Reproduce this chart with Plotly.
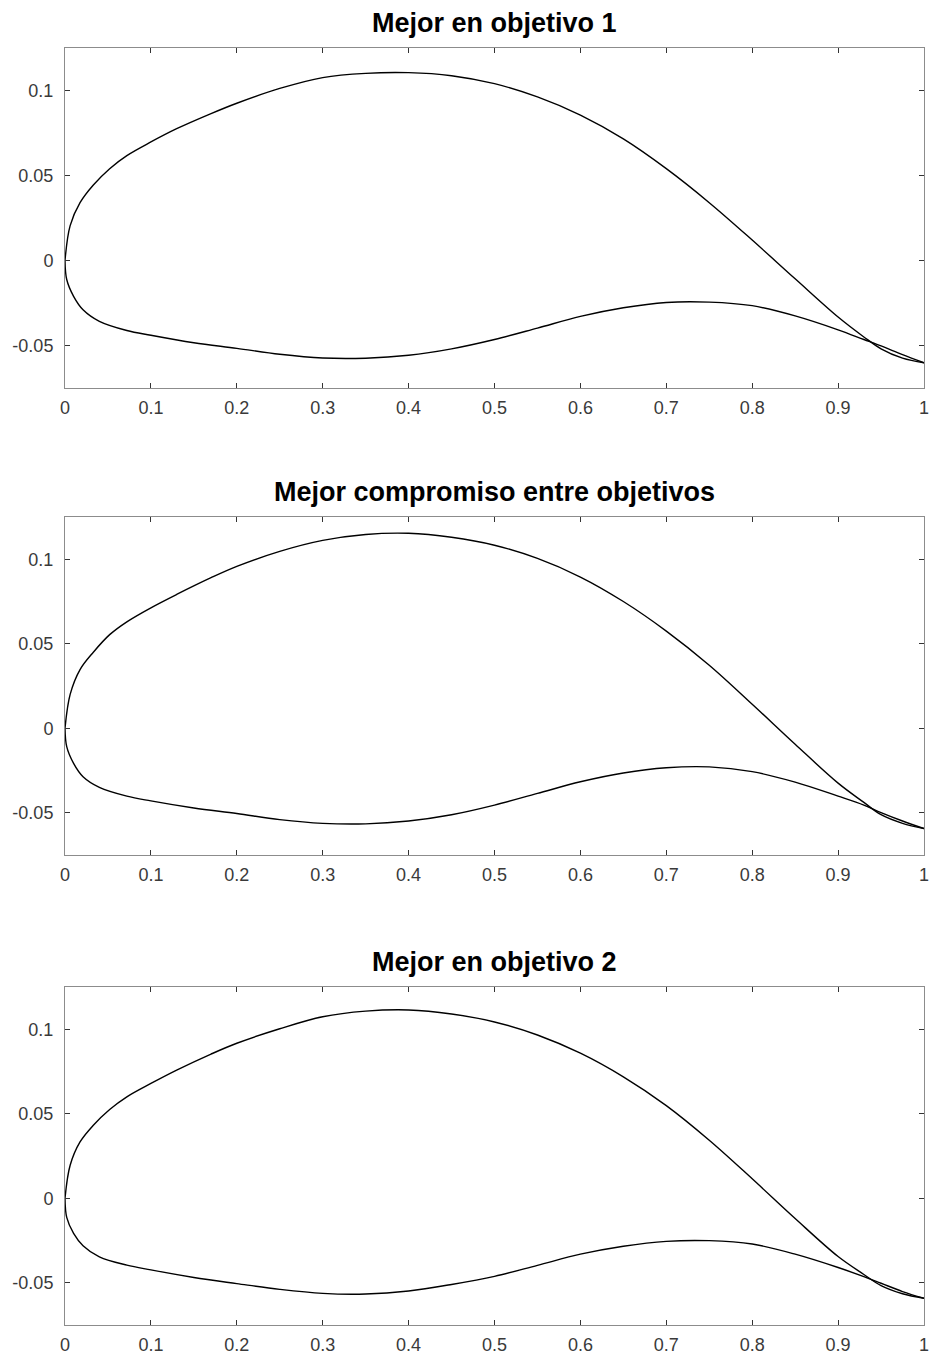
import plotly.graph_objects as go

# Shared chordwise stations (upper and lower surfaces)
x_upper = [0, 0.006, 0.0175, 0.033, 0.052, 0.072, 0.1, 0.13, 0.17, 0.2, 0.25, 0.3, 0.35,
           0.4, 0.45, 0.5, 0.55, 0.6, 0.65, 0.7, 0.75, 0.8, 0.85, 0.9, 0.93, 0.95, 0.975, 1.0]
x_lower = [0, 0.002, 0.01, 0.021, 0.04, 0.072, 0.1, 0.15, 0.2, 0.25, 0.3, 0.35, 0.4, 0.45,
           0.5, 0.55, 0.6, 0.65, 0.7, 0.75, 0.8, 0.85, 0.9, 0.93, 0.95, 0.975, 1.0]

# Mejor en objetivo 1
y_upper_1 = [0, 0.0205, 0.034, 0.0444, 0.054, 0.0617, 0.0697, 0.0775, 0.0864, 0.0925, 0.1012,
             0.1076, 0.1101, 0.1105, 0.1087, 0.104, 0.0962, 0.0855, 0.0715, 0.054, 0.034,
             0.012, -0.0108, -0.0333, -0.045, -0.052, -0.0575, -0.0602]
y_lower_1 = [0, -0.0112, -0.0211, -0.029, -0.0358, -0.0412, -0.044, -0.0484, -0.0517, -0.0552,
             -0.0574, -0.0575, -0.0558, -0.052, -0.0465, -0.0398, -0.0329, -0.0278, -0.0247,
             -0.0245, -0.0266, -0.0326, -0.0408, -0.0465, -0.0503, -0.0554, -0.0602]

# Mejor compromiso entre objetivos
y_upper_2 = [0, 0.02, 0.0347, 0.045, 0.0554, 0.063, 0.0713, 0.0792, 0.0891, 0.0958, 0.1047,
             0.1112, 0.1147, 0.1154, 0.113, 0.1083, 0.1005, 0.0895, 0.075, 0.0575, 0.0373,
             0.0142, -0.0095, -0.0325, -0.0439, -0.0512, -0.0563, -0.0594]
y_lower_2 = [0, -0.0109, -0.0208, -0.0287, -0.035, -0.0402, -0.043, -0.0472, -0.0505, -0.0541,
             -0.0563, -0.0566, -0.0549, -0.0512, -0.0455, -0.0386, -0.0317, -0.0265, -0.0234,
             -0.0229, -0.0257, -0.0319, -0.0402, -0.0455, -0.0499, -0.0549, -0.0594]

# Mejor en objetivo 2
y_upper_3 = [0, 0.0195, 0.0333, 0.0432, 0.0525, 0.06, 0.0679, 0.0758, 0.0853, 0.0917, 0.1003,
             0.1074, 0.1107, 0.1114, 0.109, 0.1043, 0.0966, 0.0858, 0.0718, 0.0548, 0.0343,
             0.0115, -0.012, -0.0345, -0.0451, -0.0517, -0.0565, -0.0592]
y_lower_3 = [0, -0.0113, -0.0208, -0.0281, -0.0347, -0.0396, -0.0424, -0.0469, -0.0505, -0.0539,
             -0.0563, -0.0567, -0.0549, -0.051, -0.0462, -0.0397, -0.0331, -0.0284, -0.0255,
             -0.0251, -0.0271, -0.0331, -0.041, -0.0464, -0.0503, -0.0552, -0.0592]

titles = ["Mejor en objetivo 1", "Mejor compromiso entre objetivos", "Mejor en objetivo 2"]

x_tickvals = [0, 0.1, 0.2, 0.3, 0.4, 0.5, 0.6, 0.7, 0.8, 0.9, 1]
x_ticktext = ["0", "0.1", "0.2", "0.3", "0.4", "0.5", "0.6", "0.7", "0.8", "0.9", "1"]
y_tickvals = [-0.05, 0, 0.05, 0.1]
y_ticktext = ["-0.05", "0", "0.05", "0.1"]

uppers = [y_upper_1, y_upper_2, y_upper_3]
lowers = [y_lower_1, y_lower_2, y_lower_3]
domains = [[0.7338, 1.0], [0.3681, 0.6327], [0.0, 0.2647]]

W, H = 930, 1357
ML, MR, MT, MB = 65, 6, 48, 32
plot_h = H - MT - MB

fig = go.Figure()
FONT = "Liberation Sans, Arial, Helvetica, sans-serif"
AX_COLOR = "#8c8c8c"
TXT_COLOR = "#3a3a3a"

for i in range(3):
    sfx = "" if i == 0 else str(i + 1)
    xa = "x" + sfx
    ya = "y" + sfx
    for xs, ys in ((x_upper, uppers[i]), (x_lower, lowers[i])):
        fig.add_trace(go.Scatter(x=xs, y=ys, mode="lines", xaxis=xa, yaxis=ya,
                                 line=dict(color="black", width=1.4, shape="spline", smoothing=1.0),
                                 showlegend=False, hoverinfo="skip"))
    common = dict(showgrid=False, zeroline=False, showline=True, linecolor=AX_COLOR, linewidth=1,
                  mirror="ticks", ticks="inside", ticklen=5, tickcolor="#333333", tickwidth=1,
                  ticklabeloverflow="allow", automargin=False,
                  tickfont=dict(family=FONT, size=18, color=TXT_COLOR))
    fig.update_layout(**{
        "xaxis" + sfx: dict(domain=[0, 1], range=[0, 1], anchor=ya, tickmode="array",
                            tickvals=x_tickvals, ticktext=x_ticktext, ticklabelstandoff=3, **common),
        "yaxis" + sfx: dict(domain=domains[i], range=[-0.075, 0.125], anchor=xa, tickmode="array",
                            tickvals=y_tickvals, ticktext=y_ticktext, ticklabelstandoff=7, **common),
    })
    fig.add_annotation(text="<b>" + titles[i] + "</b>", xref="paper", yref="paper",
                       x=0.5, y=domains[i][1] + 25 / plot_h, xanchor="center", yanchor="middle",
                       showarrow=False, font=dict(family=FONT, size=27, color="black"))

fig.update_layout(width=W, height=H, margin=dict(l=ML, r=MR, t=MT, b=MB, autoexpand=False),
                  paper_bgcolor="white", plot_bgcolor="white")

fig.write_html("out.html", config={"displayModeBar": False},
               post_script="document.body.style.margin='0';document.body.style.overflow='hidden';")
